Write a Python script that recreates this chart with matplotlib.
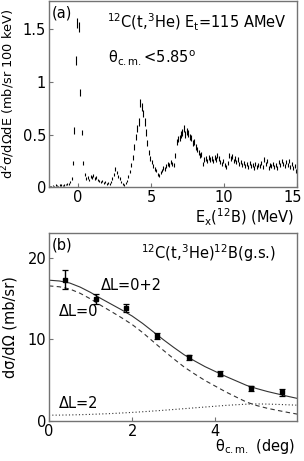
import numpy as np
import matplotlib
matplotlib.use("Agg")
import matplotlib.pyplot as plt
import matplotlib.transforms as mtransforms

plt.rcParams["font.family"] = ["DejaVu Sans"]
plt.rcParams["mathtext.fontset"] = "dejavusans"

# ---- panel (a): 12C(t,3He) spectrum, 100 keV bins starting at -2 MeV ----
E_START = -2.0
E_BIN = 0.1
spec_vals = [
    0.01, 0.01, 0.015, 0.01, 0.02, 0.015, 0.01, 0.02, 0.02, 0.015,    # -2.0 .. -1.0
    0.02, 0.025, 0.03, 0.03, 0.05, 0.08, 0.23, 0.54, 1.20, 1.56,      # -1.0 .. 0.0
    1.52, 0.90, 0.52, 0.23, 0.12, 0.08, 0.09, 0.07, 0.10, 0.09,       # 0.0 .. 1.0
    0.11, 0.08, 0.09, 0.07, 0.06, 0.05, 0.06, 0.04, 0.05, 0.03,       # 1.0 .. 2.0
    0.04, 0.03, 0.05, 0.08, 0.12, 0.17, 0.14, 0.10, 0.08, 0.05,       # 2.0 .. 3.0
    0.03, 0.02, 0.04, 0.06, 0.10, 0.15, 0.21, 0.28, 0.38, 0.48,       # 3.0 .. 4.0
    0.56, 0.62, 0.80, 0.76, 0.70, 0.62, 0.52, 0.42, 0.33, 0.27,       # 4.0 .. 5.0
    0.24, 0.20, 0.17, 0.16, 0.12, 0.11, 0.14, 0.16, 0.18, 0.17,       # 5.0 .. 6.0
    0.20, 0.22, 0.21, 0.24, 0.22, 0.21, 0.30, 0.43, 0.46, 0.47,       # 6.0 .. 7.0
    0.50, 0.52, 0.56, 0.50, 0.53, 0.51, 0.48, 0.47, 0.42, 0.43,       # 7.0 .. 8.0
    0.38, 0.36, 0.33, 0.30, 0.31, 0.22, 0.26, 0.27, 0.25, 0.28,       # 8.0 .. 9.0
    0.26, 0.27, 0.25, 0.28, 0.26, 0.30, 0.27, 0.24, 0.22, 0.25,       # 9.0 .. 10.0
    0.21, 0.19, 0.23, 0.30, 0.27, 0.29, 0.25, 0.27, 0.24, 0.26,       # 10.0 .. 11.0
    0.22, 0.24, 0.21, 0.23, 0.20, 0.22, 0.19, 0.23, 0.20, 0.21,       # 11.0 .. 12.0
    0.18, 0.22, 0.19, 0.21, 0.20, 0.23, 0.19, 0.26, 0.22, 0.25,       # 12.0 .. 13.0
    0.18, 0.21, 0.20, 0.22, 0.19, 0.21, 0.18, 0.24, 0.21, 0.25,       # 13.0 .. 14.0
    0.22, 0.20, 0.24, 0.21, 0.25, 0.19, 0.22, 0.18, 0.20, 0.15,       # 14.0 .. 15.0
]
spec_errs = [
    0.005, 0.005, 0.006, 0.005, 0.007, 0.006, 0.005, 0.007, 0.007, 0.006,
    0.007, 0.008, 0.008, 0.008, 0.010, 0.013, 0.020, 0.030, 0.042, 0.048,
    0.047, 0.037, 0.028, 0.020, 0.015, 0.012, 0.013, 0.012, 0.014, 0.013,
    0.014, 0.012, 0.013, 0.012, 0.011, 0.010, 0.011, 0.009, 0.010, 0.008,
    0.009, 0.008, 0.010, 0.012, 0.015, 0.018, 0.016, 0.014, 0.012, 0.010,
    0.008, 0.007, 0.009, 0.011, 0.014, 0.017, 0.020, 0.023, 0.027, 0.030,
    0.032, 0.034, 0.038, 0.037, 0.036, 0.034, 0.031, 0.028, 0.025, 0.022,
    0.021, 0.019, 0.018, 0.017, 0.015, 0.014, 0.016, 0.017, 0.018, 0.018,
    0.019, 0.020, 0.020, 0.021, 0.020, 0.020, 0.024, 0.028, 0.029, 0.029,
    0.030, 0.031, 0.032, 0.030, 0.031, 0.031, 0.030, 0.029, 0.028, 0.028,
    0.026, 0.026, 0.025, 0.024, 0.024, 0.021, 0.023, 0.023, 0.022, 0.023,
    0.023, 0.023, 0.022, 0.023, 0.023, 0.024, 0.023, 0.022, 0.021, 0.022,
    0.021, 0.020, 0.021, 0.024, 0.023, 0.024, 0.022, 0.023, 0.022, 0.023,
    0.021, 0.022, 0.021, 0.021, 0.020, 0.021, 0.020, 0.021, 0.020, 0.021,
    0.019, 0.021, 0.020, 0.021, 0.020, 0.021, 0.020, 0.023, 0.021, 0.022,
    0.019, 0.021, 0.020, 0.021, 0.020, 0.021, 0.019, 0.022, 0.021, 0.022,
    0.021, 0.020, 0.022, 0.021, 0.022, 0.020, 0.021, 0.019, 0.020, 0.018,
]

# ---- panel (b): angular distribution of the 12B ground state ----
theta_pts = [0.38, 1.12, 1.86, 2.60, 3.36, 4.10, 4.86, 5.60]
xs_pts = [17.3, 14.9, 13.8, 10.4, 7.8, 5.8, 4.0, 3.5]
xs_errs = [1.15, 0.6, 0.5, 0.35, 0.3, 0.3, 0.3, 0.4]

theta_calc = [0.0, 0.25, 0.5, 0.75, 1.0, 1.25, 1.5, 1.75, 2.0, 2.25, 2.5, 2.75,
              3.0, 3.25, 3.5, 3.75, 4.0, 4.25, 4.5, 4.75, 5.0, 5.25, 5.5, 5.75, 6.0]
calc_sum = [17.25, 17.15, 16.9, 16.4, 15.75, 15.0, 14.3, 13.6, 12.85, 11.95, 10.95, 9.95,
            9.0, 8.1, 7.35, 6.65, 6.05, 5.45, 4.9, 4.35, 3.95, 3.6, 3.3, 3.0, 2.72]
calc_l0 = [16.55, 16.44, 16.17, 15.64, 14.95, 14.15, 13.4, 12.63, 11.81, 10.83, 9.74, 8.65,
           7.6, 6.6, 5.75, 4.95, 4.25, 3.55, 2.92, 2.3, 1.87, 1.54, 1.28, 1.03, 0.8]
calc_l2 = [0.70, 0.71, 0.73, 0.76, 0.80, 0.85, 0.90, 0.97, 1.04, 1.12, 1.21, 1.30,
           1.40, 1.50, 1.60, 1.70, 1.80, 1.90, 1.98, 2.05, 2.08, 2.06, 2.02, 1.97, 1.92]

SPINE = "0.45"
FS = 10.5    # tick labels
LFS = 10.5   # axis labels / annotations

fig = plt.figure(figsize=(3.04, 4.61), dpi=100)
ax1 = fig.add_axes([0.161, 0.594, 0.816, 0.404])
ax2 = fig.add_axes([0.161, 0.087, 0.816, 0.407])

for ax in (ax1, ax2):
    for s in ax.spines.values():
        s.set_color(SPINE)
        s.set_linewidth(1.0)
    ax.tick_params(direction="in", length=3, width=0.8, color=SPINE,
                   labelsize=FS, pad=2, top=False, right=False)

# (a)
centers = E_START + E_BIN * (np.arange(len(spec_vals)) + 0.5)
vals = np.array(spec_vals)
errs = np.array(spec_errs)
ax1.vlines(centers, vals - errs, vals + errs, color="black", lw=0.8)
ax1.set_xlim(-2, 15)
ax1.set_ylim(0, 1.77)
ax1.set_xticks([0, 5, 10, 15])
ax1.set_yticks([0, 0.5, 1, 1.5])
ax1.set_yticklabels(["0", "0.5", "1", "1.5"])
# keep the "15" label inside the figure edge
last = ax1.get_xticklabels()[-1]
last.set_transform(last.get_transform()
                   + mtransforms.ScaledTranslation(-4 / 100, 0, fig.dpi_scale_trans))
ax1.set_ylabel("d$^2$σ/dΩdE (mb/sr 100 keV)", fontsize=9.3)
ax1.yaxis.set_label_coords(-0.128, 0.5)
ax1.set_xlabel("E$_{\\rm x}$($^{12}$B) (MeV)", fontsize=LFS)
ax1.xaxis.set_label_coords(0.99, -0.105)
ax1.xaxis.label.set_horizontalalignment("right")
ax1.text(0.012, 0.975, "(a)", transform=ax1.transAxes, fontsize=LFS, va="top")
ax1.text(0.235, 0.855, "$^{12}$C(t,$^3$He) E$_{\\rm t}$=115 AMeV",
         transform=ax1.transAxes, fontsize=LFS)
ax1.text(0.24, 0.665, "θ$_{\\rm c.m.}$<5.85$^{\\rm o}$",
         transform=ax1.transAxes, fontsize=LFS)

# (b)
ax2.plot(theta_calc, calc_sum, color="0.2", lw=0.8, ls="-")
ax2.plot(theta_calc, calc_l0, color="0.2", lw=0.8, ls=(0, (4, 3)))
ax2.plot(theta_calc, calc_l2, color="0.2", lw=0.8, ls=(0, (1, 2)))
ax2.errorbar(theta_pts, xs_pts, yerr=xs_errs, fmt="s", ms=3, color="black",
             ecolor="black", elinewidth=1.0, capsize=2, capthick=0.9)
ax2.set_xlim(0, 5.96)
ax2.set_ylim(0, 23)
ax2.set_xticks([0, 2, 4])
ax2.set_yticks([0, 10, 20])
ax2.set_ylabel("dσ/dΩ (mb/sr)", fontsize=LFS)
ax2.yaxis.set_label_coords(-0.128, 0.5)
ax2.set_xlabel("θ$_{\\rm c.m.}$ (deg)", fontsize=LFS)
ax2.xaxis.set_label_coords(0.99, -0.085)
ax2.xaxis.label.set_horizontalalignment("right")
ax2.text(0.012, 0.975, "(b)", transform=ax2.transAxes, fontsize=LFS, va="top")
ax2.text(0.37, 0.865, "$^{12}$C(t,$^3$He)$^{12}$B(g.s.)",
         transform=ax2.transAxes, fontsize=LFS)
ax2.text(0.21, 0.7, "ΔL=0+2", transform=ax2.transAxes, fontsize=LFS)
ax2.text(0.04, 0.56, "ΔL=0", transform=ax2.transAxes, fontsize=LFS)
ax2.text(0.04, 0.07, "ΔL=2", transform=ax2.transAxes, fontsize=LFS)

fig.savefig("out.png", dpi=100)
